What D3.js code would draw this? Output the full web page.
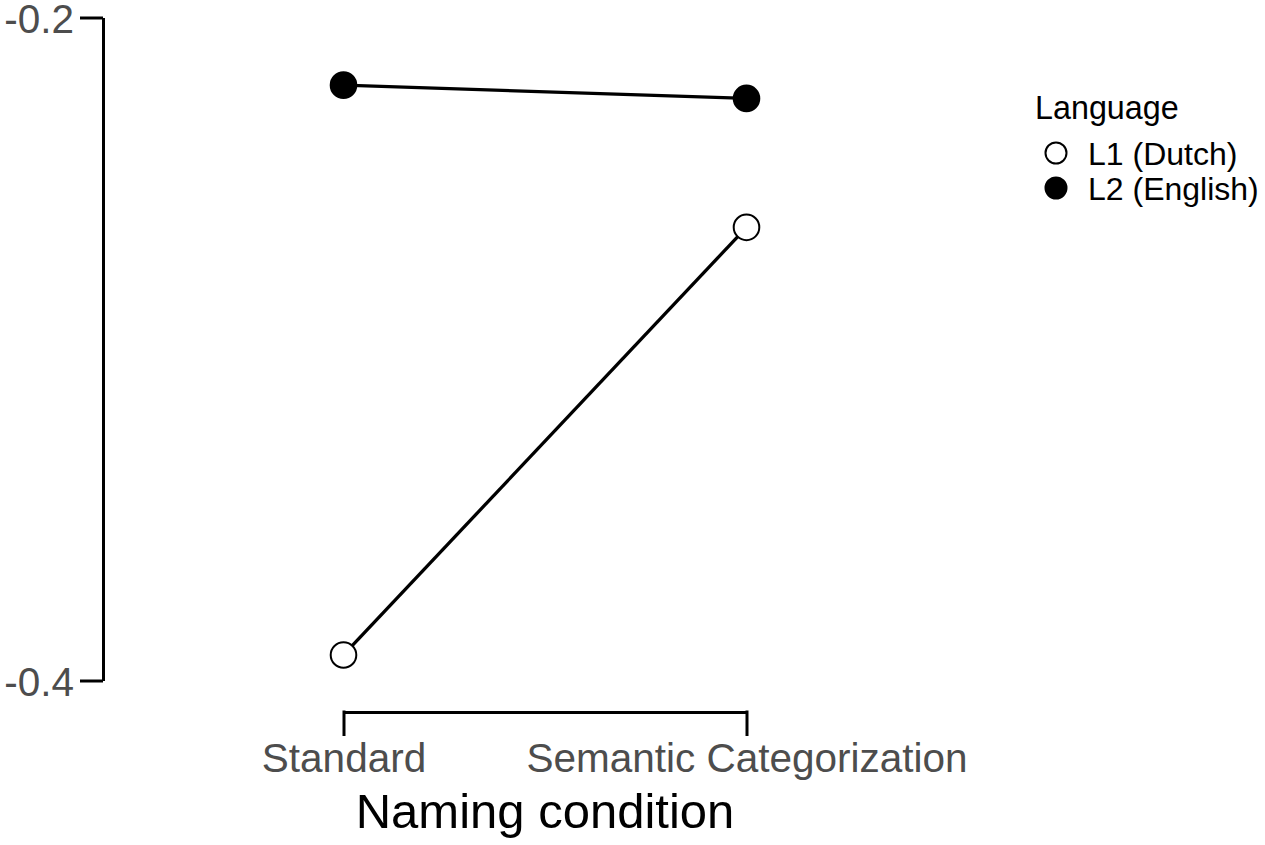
<!DOCTYPE html>
<html><head><meta charset="utf-8">
<script src="https://cdn.jsdelivr.net/npm/d3@7"></script>
<style>body{margin:0;background:#fff}svg{display:block}text{font-family:"Liberation Sans",Arial,Helvetica,sans-serif}</style>
</head><body><svg id="chart" width="1265" height="845"></svg>
<script>
const conditions = ["Standard", "Semantic Categorization"];
const seriesNames = ["L1 (Dutch)", "L2 (English)"];
const l1Values = [-0.3923, -0.2633];
const l2Values = [-0.2204, -0.2244];
const yTicks = [-0.4, -0.2];
const yTickLabels = ["-0.4", "-0.2"];
const xTitle = "Naming condition";
const legendTitle = "Language";

const svg = d3.select("#chart");
const x = d3.scalePoint().domain(conditions).range([343.5, 746.5]);
const y = d3.scaleLinear().domain([-0.4, -0.2]).range([680.5, 17.5]);

// y axis (range frame)
const yAxis = svg.append("g").attr("transform", "translate(103,0)")
  .call(d3.axisLeft(y).tickValues(yTicks).tickFormat((d,i)=>yTickLabels[i]).tickSize(23).tickSizeOuter(0).tickPadding(6));
yAxis.select(".domain").attr("stroke", "#000").attr("stroke-width", 3);
yAxis.selectAll(".tick line").attr("stroke", "#000").attr("stroke-width", 3);
yAxis.selectAll(".tick text").attr("fill", "#4d4d4d").style("font-size", "40.5px").attr("dy", "0.36em");

// x axis (bracket)
const xAxis = svg.append("g").attr("transform", "translate(0,712)")
  .call(d3.axisTop(x).tickSize(0).tickSizeOuter(0));
xAxis.select(".domain").attr("stroke", "#000").attr("stroke-width", 3);
xAxis.selectAll(".tick text").remove();
xAxis.selectAll(".tick").append("line").attr("y1", -1.5).attr("y2", 24).attr("stroke", "#000").attr("stroke-width", 3);
xAxis.selectAll(".tick").append("text").text(d=>d).attr("y", 60).attr("text-anchor", "middle")
  .attr("fill", "#4d4d4d").style("font-size", "40.5px");

svg.append("text").attr("x", (x(conditions[0])+x(conditions[1]))/2).attr("y", 828)
  .attr("text-anchor", "middle").style("font-size", "49px").attr("fill", "#000").text(xTitle);

// series
const series = [
  {name: seriesNames[0], values: l1Values, fill: "#fff"},
  {name: seriesNames[1], values: l2Values, fill: "#000"}
];
const line = d3.line().x((d,i)=>x(conditions[i])).y(d=>y(d));
series.forEach(s => {
  svg.append("path").datum(s.values).attr("d", line).attr("fill", "none").attr("stroke", "#000").attr("stroke-width", 3.3);
  svg.selectAll(null).data(s.values).enter().append("circle")
    .attr("cx", (d,i)=>x(conditions[i])).attr("cy", d=>y(d)).attr("r", 12.8)
    .attr("fill", s.fill).attr("stroke", "#000").attr("stroke-width", 2);
});

// legend
const lg = svg.append("g");
lg.append("text").attr("x", 1035).attr("y", 119).style("font-size", "32.3px").attr("fill", "#000").text(legendTitle);
series.forEach((s, i) => {
  const cy = 153 + i * 35;
  lg.append("circle").attr("cx", 1056).attr("cy", cy).attr("r", 10.5).attr("fill", s.fill).attr("stroke", "#000").attr("stroke-width", 2);
  lg.append("text").attr("x", 1088).attr("y", cy).attr("dy", "0.36em").style("font-size", "32px").attr("fill", "#000").text(s.name);
});
</script></body></html>
